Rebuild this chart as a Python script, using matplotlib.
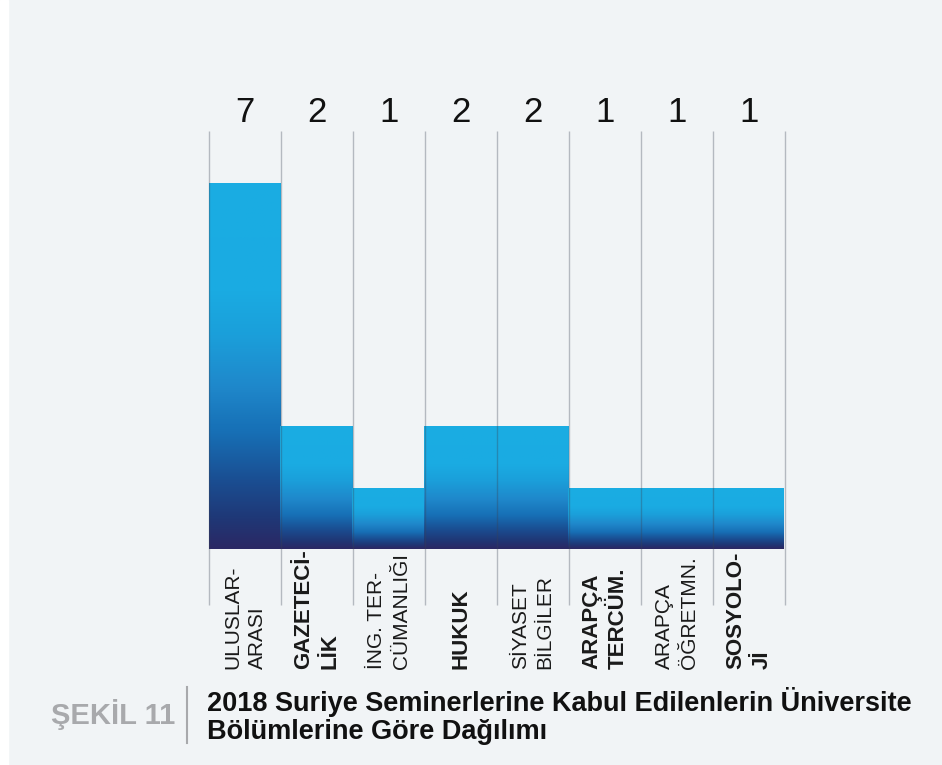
import numpy as np
import matplotlib
matplotlib.use("Agg")
import matplotlib.pyplot as plt
from matplotlib.colors import LinearSegmentedColormap
from matplotlib.patches import Rectangle

plt.rcParams["font.family"] = ["Liberation Sans", "DejaVu Sans"]

# data
categories = ["ULUSLAR-\nARASI", "GAZETECİ-\nLİK", "İNG. TER-\nCÜMANLIĞI", "HUKUK",
              "SİYASET\nBİLGİLER", "ARAPÇA\nTERCÜM.", "ARAPÇA\nÖĞRETMN.", "SOSYOLO-\nJİ"]
bold_label = [False, True, False, True, False, True, False, True]
counts = [7, 2, 1, 2, 2, 1, 1, 1]
value_labels = ["7", "2", "1", "2", "2", "1", "1", "1"]
fig_label = "ŞEKİL 11"
title = "2018 Suriye Seminerlerine Kabul Edilenlerin Üniversite\nBölümlerine Göre Dağılımı"

bg = "#f1f4f6"
W, H = 942, 765

fig = plt.figure(figsize=(W / 100, H / 100), dpi=100)
fig.patch.set_facecolor(bg)
# thin white strip on the left edge
fig.add_artist(Rectangle((0, 0), 8 / W, 1, transform=fig.transFigure, color="white", zorder=0))

x0, x1 = 209, 785
ybot, ytop = 548.6, 131
ax = fig.add_axes([x0 / W, 1 - ybot / H, (x1 - x0) / W, (ybot - ytop) / H])
ax.set_facecolor("none")

# the tall bar is drawn compressed in the original: squash values above 2
k = 0.785
def fwd(y):
    y = np.asarray(y, dtype=float)
    return np.where(y <= 2, y, 2 + (y - 2) * k)
def inv(y):
    y = np.asarray(y, dtype=float)
    return np.where(y <= 2, y, 2 + (y - 2) / k)
ax.set_yscale("function", functions=(fwd, inv))

n = len(counts)
xs = np.arange(n)
ax.axis("off")

cmap = LinearSegmentedColormap.from_list("bar", [
    (0.00, "#2b2864"), (0.07, "#1f3877"), (0.16, "#1a4f93"), (0.27, "#1770b6"),
    (0.40, "#1f88cb"), (0.55, "#1b9fda"), (0.68, "#1aabe2"), (1.00, "#1aade3")])
grad = np.linspace(0, 1, 256).reshape(-1, 1)

bars = ax.bar(xs, counts, width=1.0, color="none", edgecolor="none")
for b in bars:
    bx, bw, bh = b.get_x(), b.get_width(), b.get_height()
    ax.imshow(grad, extent=(bx - 0.01, bx + bw + 0.01, 0, bh), origin="lower",
              aspect="auto", cmap=cmap, interpolation="bilinear", zorder=1)
ax.set_xlim(-0.5, n - 0.5)
ax.set_ylim(0, float(inv(6.76)))

# vertical separators, running below the bars
below = -(605 - ybot) / (ybot - ytop)
trans = ax.get_xaxis_transform()
ax.vlines(np.arange(n + 1) - 0.5, below, 1, transform=trans, colors="#3a4254",
          alpha=0.33, linewidth=1, clip_on=False, zorder=3)

# value labels on top
for x, v in zip(xs, value_labels):
    ax.text(x, 1 + (ytop - 113) / (ybot - ytop), v, transform=trans, ha="center",
            va="center", fontsize=25, color="#111111")

# category labels, rotated
lab_y = -(669 - ybot) / (ybot - ytop)
for x, lab, bd in zip(xs, categories, bold_label):
    ax.text(x, lab_y, lab, transform=trans, rotation=90, ha="center", va="bottom",
            multialignment="left", fontsize=16 if bd else 15, linespacing=1.35,
            fontweight="bold" if bd else "normal", color="#1a1a1a")

# caption
fig.text(175 / W, 1 - 715 / H, fig_label, ha="right", va="center", fontsize=21,
         fontweight="bold", color="#a8a9ac")
fig.add_artist(plt.Line2D([187 / W, 187 / W], [1 - 687 / H, 1 - 743 / H],
                          transform=fig.transFigure, color="#a8a9ac", linewidth=1.5))
fig.text(207 / W, 1 - 716 / H, title, ha="left", va="center", fontsize=19.5,
         fontweight="bold", color="#111111", linespacing=1.12)

fig.savefig("out.png", dpi=100, facecolor=bg)
